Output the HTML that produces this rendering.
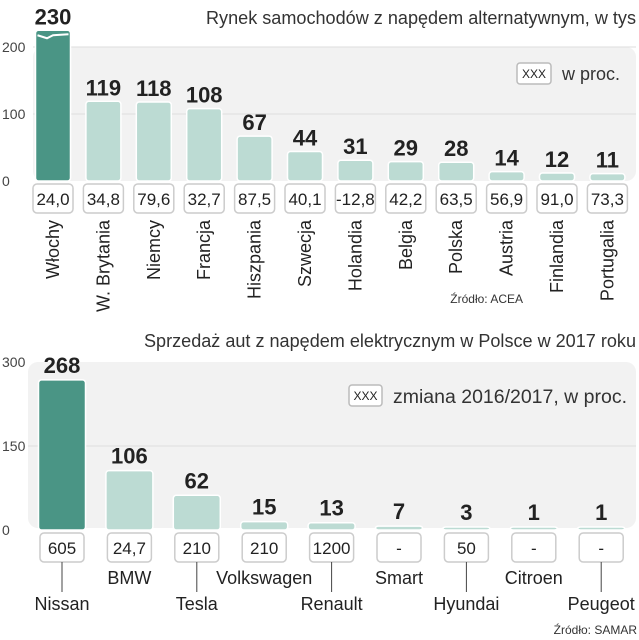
<!DOCTYPE html>
<html><head><meta charset="utf-8"><style>
body{margin:0;background:#fff;width:639px;height:640px;overflow:hidden}
svg{display:block;font-family:"Liberation Sans Narrow","Liberation Sans",sans-serif}
</style></head><body>
<svg id="c" width="639" height="640">
<rect x="33" y="47" width="603" height="134" rx="10" fill="#f2f2f2"/>
<rect x="28" y="362" width="608" height="166" rx="10" fill="#f2f2f2"/>
<text x="636" y="24" text-anchor="end" font-size="18" fill="#333" textLength="430" lengthAdjust="spacingAndGlyphs">Rynek samochodów z napędem alternatywnym, w tys</text>
<text x="636" y="347" text-anchor="end" font-size="18" fill="#333" textLength="492" lengthAdjust="spacingAndGlyphs">Sprzedaż aut z napędem elektrycznym w Polsce w 2017 roku</text>
<rect x="517" y="63" width="34" height="21" rx="3" fill="#fff" stroke="#bbb" stroke-width="1.5"/>
<text x="534" y="78" text-anchor="middle" font-size="12" fill="#222">XXX</text>
<text x="562" y="80" font-size="18" fill="#333" textLength="58" lengthAdjust="spacingAndGlyphs">w proc.</text>
<rect x="349" y="385" width="33" height="21" rx="3" fill="#fff" stroke="#bbb" stroke-width="1.5"/>
<text x="365.5" y="400" text-anchor="middle" font-size="12" fill="#222">XXX</text>
<text x="393" y="403" font-size="19" fill="#333" textLength="234" lengthAdjust="spacingAndGlyphs">zmiana 2016/2017, w proc.</text>
<text x="523" y="303" text-anchor="end" font-size="12" fill="#333">Źródło: ACEA</text>
<text x="637" y="634" text-anchor="end" font-size="12" fill="#333">Źródło: SAMAR</text>
<g id="g"></g>
</svg>
<script>
const topCats=["Włochy","W. Brytania","Niemcy","Francja","Hiszpania","Szwecja","Holandia","Belgia","Polska","Austria","Finlandia","Portugalia"];
const topVals=[230,119,118,108,67,44,31,29,28,14,12,11];
const topPct=["24,0","34,8","79,6","32,7","87,5","40,1","-12,8","42,2","63,5","56,9","91,0","73,3"];
const topTicks=[0,100,200];
const botCats=["Nissan","BMW","Tesla","Volkswagen","Renault","Smart","Hyundai","Citroen","Peugeot"];
const botVals=[268,106,62,15,13,7,3,1,1];
const botPct=["605","24,7","210","210","1200","-","50","-","-"];
const botTicks=[0,150,300];

const NS="http://www.w3.org/2000/svg",G=document.getElementById('g');
function mk(t,a,txt){const e=document.createElementNS(NS,t);for(const k in a)e.setAttribute(k,a[k]);if(txt!=null)e.textContent=txt;G.appendChild(e);return e;}
const ty=v=>181-v*0.67, tx=i=>53+i*50.4;
const by=v=>530-v*0.56, bx=i=>62+i*67.4;
topTicks.forEach(t=>{
 if(t>0){const l=mk('line',{x1:33,x2:636,y1:ty(t),y2:ty(t),stroke:'#ddd'});}
 const e=mk('text',{x:2,y:ty(t)+5,'font-size':14,fill:'#444'},t);
 
 
});
botTicks.forEach(t=>{
 if(t>0&&t<300){const l=mk('line',{x1:28,x2:636,y1:by(t),y2:by(t),stroke:'#ddd'});}
 const e=mk('text',{x:2,y:by(t)+5,'font-size':14,fill:'#444'},t);
 
 
});
topVals.forEach((v,i)=>{
 const cx=tx(i),w=35,cap=Math.min(v,225);let top=ty(cap);
 const b=mk('rect',{x:cx-w/2,y:top,width:w,height:181-top,rx:3,fill:i==0?'#4a9585':'#bcdbd3',stroke:'#fff','stroke-width':1.5});
 
 
 if(v>225){const p=mk('path',{d:`M${cx-w/2+2} ${top+5} L${cx-6} ${top+8} L${cx} ${top+5} L${cx+w/2-2} ${top+4}`,stroke:'#fff','stroke-width':2,fill:'none'});}
 const l=mk('text',{x:cx,y:top-6,'text-anchor':'middle','font-size':22,'font-weight':'bold',fill:'#222'},v);
 
 
 const r=mk('rect',{x:cx-20,y:184,width:40,height:29,rx:4,fill:'#fff',stroke:'#ccc','stroke-width':1.5});
 
 
 const pt=mk('text',{x:cx,y:205,'text-anchor':'middle','font-size':17,fill:'#222'},topPct[i]);
 
 
 const c=mk('text',{x:0,y:0,'text-anchor':'end','font-size':18,fill:'#222',transform:`translate(${cx+6},220) rotate(-90)`},topCats[i]);
 
 
});
botVals.forEach((v,i)=>{
 const cx=bx(i),w=47,top=Math.min(by(v),527);
 const b=mk('rect',{x:cx-w/2,y:top,width:w,height:Math.max(530-top,3),rx:3,fill:i==0?'#4a9585':'#bcdbd3',stroke:'#fff','stroke-width':1.5});
 
 
 const l=mk('text',{x:cx,y:top-7,'text-anchor':'middle','font-size':22,'font-weight':'bold',fill:'#222'},v);
 
 
 const r=mk('rect',{x:cx-22,y:533,width:44,height:29,rx:4,fill:'#fff',stroke:'#ccc','stroke-width':1.5});
 
 
 const pt=mk('text',{x:cx,y:554,'text-anchor':'middle','font-size':17,fill:'#222'},botPct[i]);
 
 
 const low=i%2==0;
 if(low){const ln=mk('line',{x1:cx,x2:cx,y1:562,y2:592,stroke:'#444'});}
 const c=mk('text',{x:cx,y:low?610:584,'text-anchor':'middle','font-size':18,fill:'#222'},botCats[i]);
 
 
});
</script>
</body></html>
